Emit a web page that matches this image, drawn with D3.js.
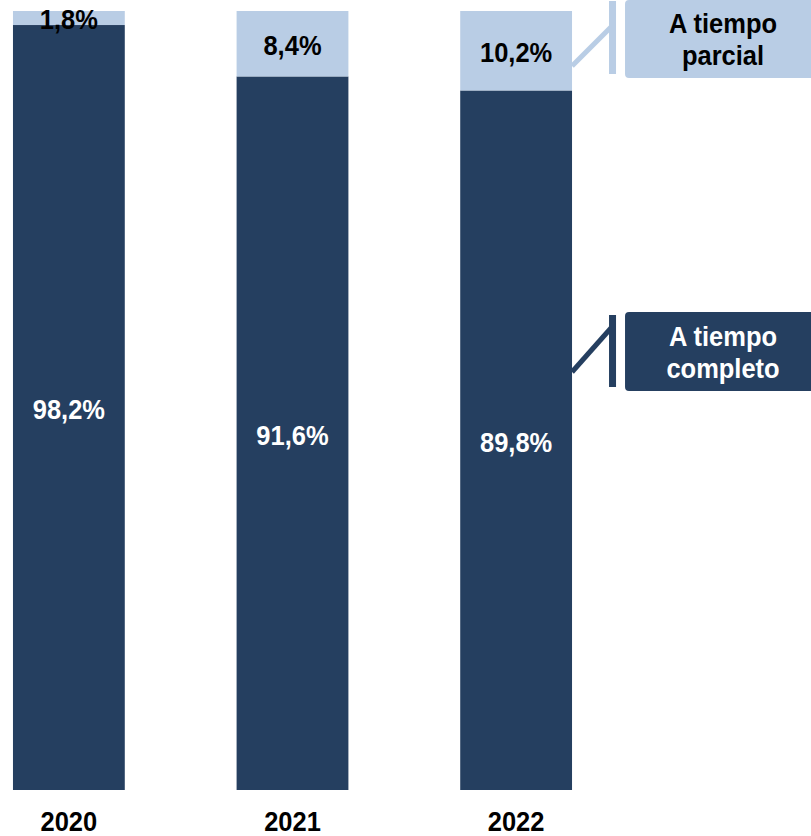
<!DOCTYPE html>
<html>
<head>
  <meta charset="utf-8">
  <script src="https://d3js.org/d3.v7.min.js"></script>
  <style>
    body {
      margin: 0;
      background: #fff;
    }

    text {
      font-family: Arial, "Liberation Sans", sans-serif;
      font-weight: bold;
    }
  </style>
</head>
<body>

  <svg id="chart" width="811" height="836"></svg>

  <script>
    // data
    var years = ["2020", "2021", "2022"];
    var completo = [98.2, 91.6, 89.8];
    var parcial = [1.8, 8.4, 10.2];
    var seriesNames = ["A tiempo completo", "A tiempo parcial"];

    var darkBlue = "#253f60",
      lightBlue = "#b9cde5";

    var svg = d3.select("#chart"),
      fontSize = 25.5,
      stretch = 1.12; // text in the original is a bit taller than wide

    var x = d3.scaleBand()
      .domain(years)
      .range([0, 585])
      .paddingInner(0.5)
      .paddingOuter(0.058);

    var y = d3.scaleLinear()
      .domain([0, 100])
      .range([790, 11]);

    var fmt = v => d3.format(".1f")(v).replace(".", ",") + "%";

    // place a label centred on (cx, cy) with the vertical stretch
    function place(cx, cy) {
      return "translate(" + cx + "," + cy + ") scale(1," + stretch + ")";
    }

    var rows = years.map((yr, i) => ({ year: yr, completo: completo[i], parcial: parcial[i] }));
    var stack = d3.stack().keys(["completo", "parcial"])(rows);
    var colors = { completo: darkBlue, parcial: lightBlue };
    var textColors = { completo: "#fff", parcial: "#000" };

    var layers = svg.selectAll(".layer")
      .data(stack)
      .join("g")
      .attr("class", "layer");

    layers.selectAll("rect")
      .data(d => d.map(s => ({ key: d.key, s: s })))
      .join("rect")
      .attr("x", d => x(d.s.data.year))
      .attr("width", x.bandwidth())
      .attr("y", d => y(d.s[1]))
      .attr("height", d => y(d.s[0]) - y(d.s[1]))
      .style("fill", d => colors[d.key]);

    layers.selectAll("text")
      .data(d => d.map(s => ({ key: d.key, s: s })))
      .join("text")
      .attr("transform", d => place(x(d.s.data.year) + x.bandwidth() / 2, (y(d.s[0]) + y(d.s[1])) / 2 + 1))
      .attr("dy", ".36em")
      .attr("text-anchor", "middle")
      .attr("font-size", fontSize)
      .style("fill", d => textColors[d.key])
      .text(d => fmt(d.s[1] - d.s[0]));

    // x axis labels
    var xAxis = svg.append("g")
      .attr("transform", "translate(0,790)")
      .call(d3.axisBottom(x).tickSize(0).tickPadding(0));
    xAxis.select(".domain").remove();
    xAxis.selectAll("text")
      .attr("y", null)
      .attr("dy", ".36em")
      .attr("transform", place(0, 31))
      .attr("font-size", fontSize)
      .style("font-family", "Arial, 'Liberation Sans', sans-serif")
      .style("fill", "#000");

    // callouts next to the last bar
    var lastX = x(years[2]) + x.bandwidth();
    var callouts = [
      { name: "A tiempo parcial", lines: ["A tiempo", "parcial"], fill: lightBlue, text: "#000",
        from: 66, to: 27, barTop: 1, barBottom: 74, boxTop: 0, boxBottom: 78 },
      { name: "A tiempo completo", lines: ["A tiempo", "completo"], fill: darkBlue, text: "#fff",
        from: 372, to: 328, barTop: 315, barBottom: 387, boxTop: 312, boxBottom: 391 }
    ];

    var co = svg.selectAll(".callout")
      .data(callouts)
      .join("g")
      .attr("class", "callout");

    co.append("line")
      .attr("x1", lastX)
      .attr("y1", d => d.from)
      .attr("x2", lastX + 39)
      .attr("y2", d => d.to)
      .attr("stroke", d => d.fill)
      .attr("stroke-width", 5);

    co.append("rect")
      .attr("x", lastX + 37)
      .attr("width", 7)
      .attr("y", d => d.barTop)
      .attr("height", d => d.barBottom - d.barTop)
      .style("fill", d => d.fill);

    co.append("rect")
      .attr("x", lastX + 53)
      .attr("width", 200)
      .attr("y", d => d.boxTop)
      .attr("height", d => d.boxBottom - d.boxTop)
      .attr("rx", 4)
      .style("fill", d => d.fill);

    co.each(function (d) {
      var mid = (d.boxTop + d.boxBottom) / 2;
      d3.select(this).selectAll(".lbl")
        .data(d.lines)
        .join("text")
        .attr("class", "lbl")
        .attr("transform", (t, i) => place(lastX + 151, mid + (i - 0.5) * 32))
        .attr("dy", ".36em")
        .attr("text-anchor", "middle")
        .attr("font-size", fontSize)
        .style("fill", d.text)
        .text(t => t);
    });
  </script>
</body>
</html>
